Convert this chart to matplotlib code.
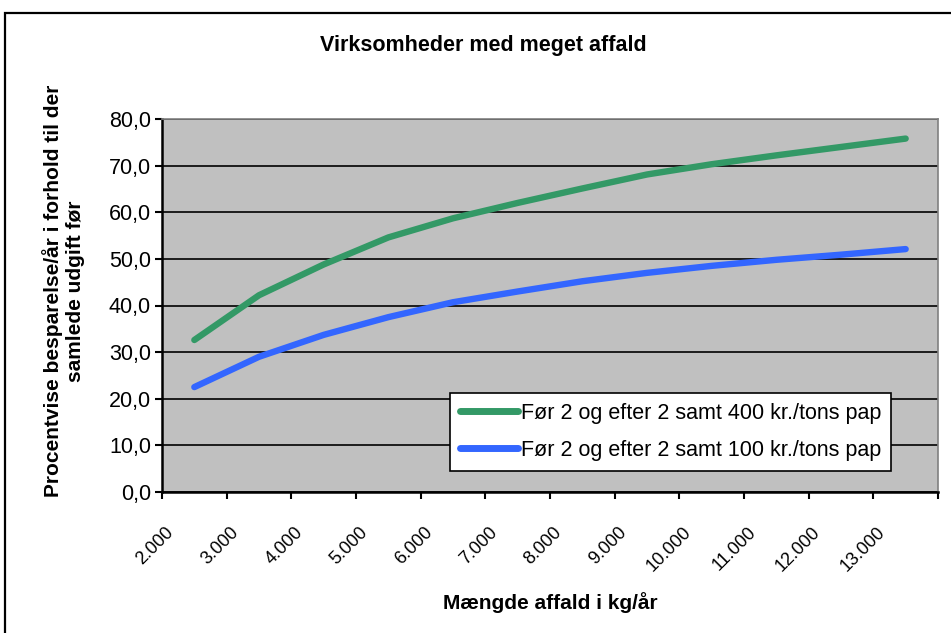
import matplotlib
matplotlib.use("Agg")
import matplotlib.pyplot as plt
import matplotlib.transforms as mtransforms
from matplotlib.patches import Rectangle
from matplotlib.ticker import FixedLocator, FuncFormatter

plt.rcParams['font.family'] = ['Liberation Sans', 'DejaVu Sans']

# data
maengde = ["2.000", "3.000", "4.000", "5.000", "6.000", "7.000",
           "8.000", "9.000", "10.000", "11.000", "12.000", "13.000"]
pap_400 = [32.6, 42.2, 48.8, 54.6, 58.7, 62.0, 65.1, 68.1, 70.3, 72.2, 74.0, 75.8]
pap_100 = [22.5, 29.0, 33.7, 37.5, 40.7, 43.0, 45.2, 47.0, 48.5, 49.8, 50.9, 52.1]
navne = ["Før 2 og efter 2 samt 400 kr./tons pap",
         "Før 2 og efter 2 samt 100 kr./tons pap"]

W, H = 951, 633
fig = plt.figure(figsize=(W / 100, H / 100), dpi=100)

# ramme rundt om diagrammet (kun venstre og top er synlige)
fig.patches.append(Rectangle((5 / W, -0.2), 1.5, 1.2 - 13 / H,
                             transform=fig.transFigure, fill=False,
                             edgecolor='black', linewidth=1.6))

ax = fig.add_axes([162 / W, 1 - 492 / H, (938 - 162) / W, (492 - 119) / H])
ax.set_facecolor('#C0C0C0')

x = list(range(len(maengde)))
ax.plot(x, pap_400, color='#339966', lw=4.6, solid_capstyle='round',
        solid_joinstyle='round', label=navne[0], zorder=3)
ax.plot(x, pap_100, color='#3366FF', lw=4.6, solid_capstyle='round',
        solid_joinstyle='round', label=navne[1], zorder=3)

ax.set_xlim(-0.5, len(maengde) - 0.5)
ax.set_ylim(0, 80)

# y-akse
ax.yaxis.set_major_locator(FixedLocator(range(0, 81, 10)))
ax.yaxis.set_major_formatter(FuncFormatter(lambda v, p: f"{v:.1f}".replace('.', ',')))
ax.tick_params(axis='y', direction='out', length=5, width=1.5, labelsize=15.5, pad=3)
ax.grid(axis='y', color='black', lw=1.2, zorder=1)

# x-akse: streger mellem kategorier, etiketter i midten
ax.set_xticks([i - 0.5 for i in range(len(maengde) + 1)], minor=True)
ax.set_xticks(x)
ax.set_xticklabels(maengde, rotation=45, ha='right', fontsize=13)
ax.tick_params(axis='x', which='major', length=0, pad=23)
ax.tick_params(axis='x', which='minor', direction='out', length=5, width=1.5)
skub = mtransforms.ScaledTranslation(-17 / 100, 0, fig.dpi_scale_trans)
for lab in ax.get_xticklabels():
    lab.set_transform(lab.get_transform() + skub)

for s in ['left', 'bottom']:
    ax.spines[s].set_color('black')
    ax.spines[s].set_linewidth(1.8)
for s in ['top', 'right']:
    ax.spines[s].set_color('#808080')
    ax.spines[s].set_linewidth(1.2)

fig.text(0.5 * (322 + 645) / W, 1 - 45 / H, "Virksomheder med meget affald",
         ha='center', va='center', fontsize=15.5, fontweight='bold')
fig.text(550 / W, 1 - 603 / H, "Mængde affald i kg/år",
         ha='center', va='center', fontsize=15, fontweight='bold')
fig.text(64 / W, 1 - 291 / H,
         "Procentvise besparelse/år i forhold til der\nsamlede udgift før",
         ha='center', va='center', rotation=90, fontsize=15, fontweight='bold',
         linespacing=1.2)

leg = ax.legend(loc='upper left', bbox_to_anchor=(450 / W, 1 - 393 / H),
                bbox_transform=fig.transFigure, borderaxespad=0,
                fontsize=15.5, handlelength=2.7, handletextpad=0.15,
                fancybox=False, framealpha=1, edgecolor='black',
                borderpad=0.45, labelspacing=0.75)
leg.get_frame().set_linewidth(1.2)
for l in leg.get_lines():
    l.set_linewidth(5)

fig.savefig("out.png", dpi=100)
